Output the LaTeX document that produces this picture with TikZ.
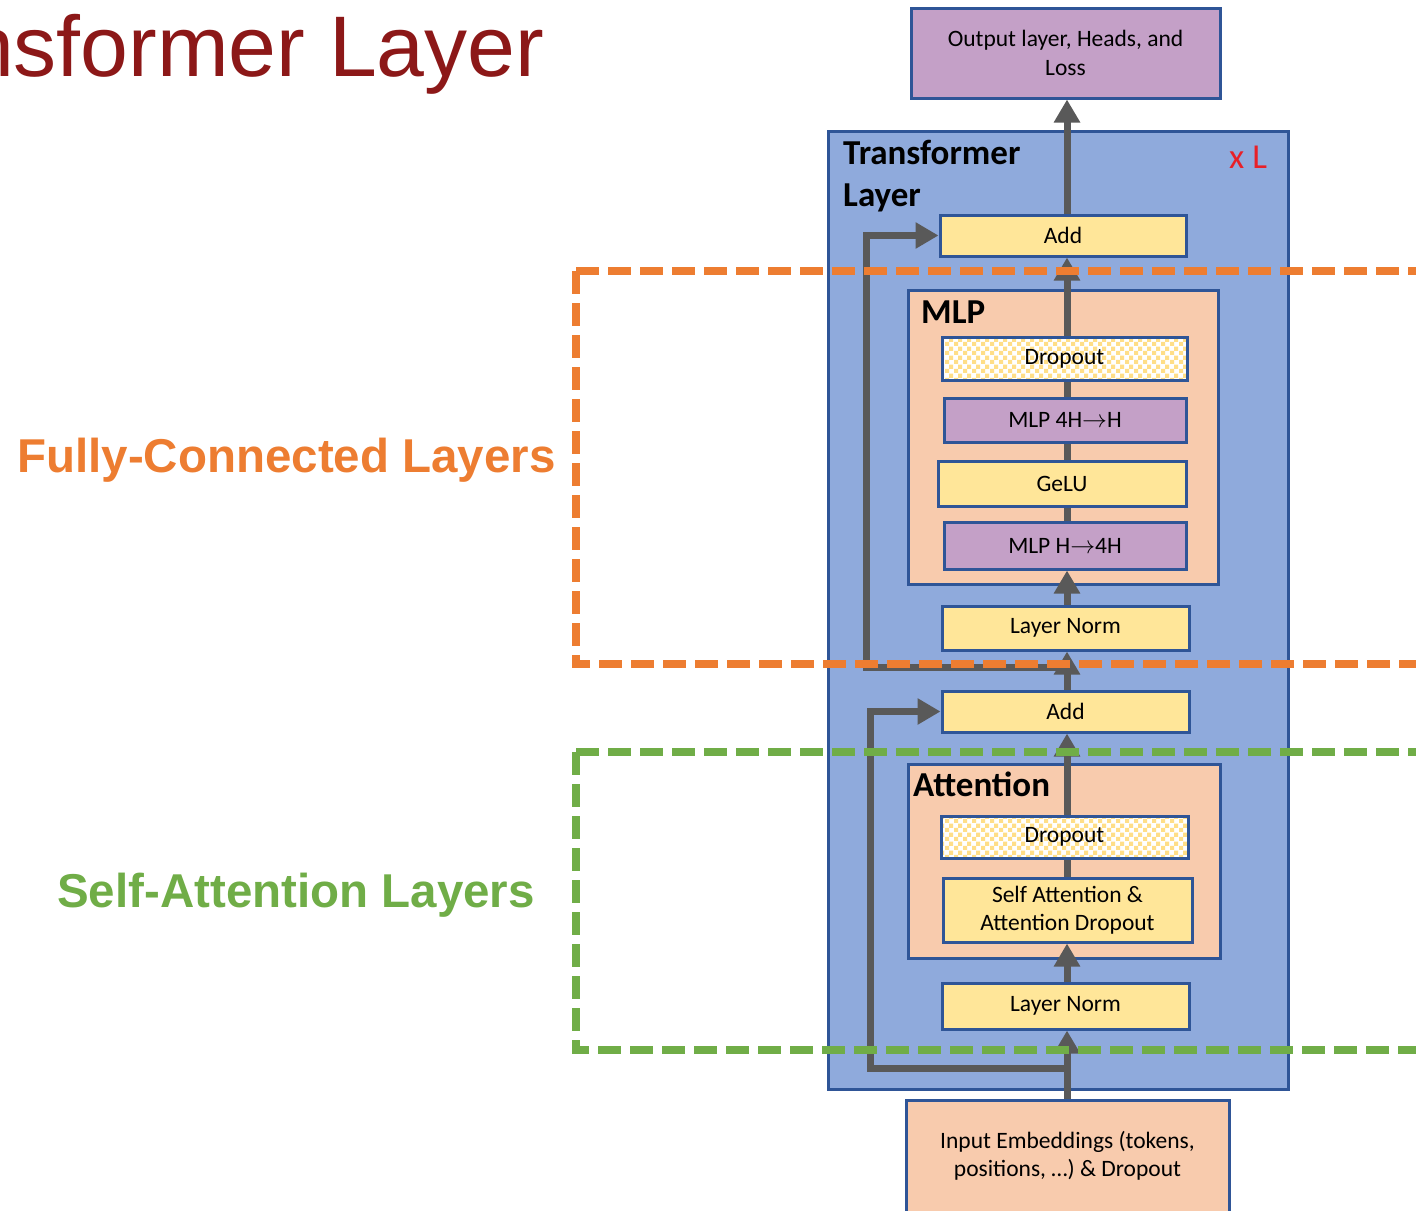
\documentclass[tikz,border=0pt]{standalone}
\usepackage{fontspec}
\setmainfont{Carlito}
\newfontfamily\arialfont{Liberation Sans}
\usetikzlibrary{arrows.meta,patterns,calc}
\definecolor{tlblue}{RGB}{143,170,220}
\definecolor{bdblue}{RGB}{47,85,151}
\definecolor{ylw}{RGB}{255,230,153}
\definecolor{chk}{RGB}{255,222,135}
\definecolor{purp}{RGB}{196,160,199}
\definecolor{peach}{RGB}{248,203,173}
\definecolor{agray}{RGB}{89,89,89}
\definecolor{orng}{RGB}{237,125,49}
\definecolor{grn}{RGB}{112,173,71}
\definecolor{ttlred}{RGB}{140,24,24}
\definecolor{xlred}{RGB}{232,32,40}
\pgfdeclarepatternformonly{bigcheck}{\pgfpointorigin}{\pgfqpoint{9pt}{9pt}}{\pgfqpoint{9pt}{9pt}}{%
  \pgfpathrectangle{\pgfpointorigin}{\pgfqpoint{4.5pt}{4.5pt}}%
  \pgfpathrectangle{\pgfqpoint{4.5pt}{4.5pt}}{\pgfqpoint{4.5pt}{4.5pt}}%
  \pgfusepath{fill}}
\newcommand\mybxfont{\fontsize{23.5}{28.5}\selectfont}
\newcommand\myhdfont{\fontsize{35}{42}\selectfont\bfseries}
\begin{document}
\begin{tikzpicture}[x=1pt,y=-1pt,
  box/.style={draw=bdblue, line width=3pt, inner sep=0pt, align=center, font=\mybxfont},
  ybox/.style={box, fill=ylw},
  pbox/.style={box, fill=purp},
  ebox/.style={box, fill=peach},
  cbox/.style={box, preaction={fill=white}, pattern=bigcheck, pattern color=chk},
  arr/.style={draw=agray, line width=7pt, -{Triangle[width=25pt,length=23pt]}},
  seg/.style={draw=agray, line width=7pt},
  odash/.style={draw=orng, line width=8pt, dash pattern=on 23pt off 9pt},
  gdash/.style={draw=grn, line width=8pt, dash pattern=on 23pt off 9pt},
  hd/.style={font=\myhdfont, inner sep=0pt, align=left}]
\useasboundingbox (0,0) rectangle (1416,1210);
\clip (0,0) rectangle (1416,1210);

% title (cut at the left edge, as in the reference)
\node[anchor=base west, inner sep=0pt, text=ttlred, font=\arialfont\fontsize{86}{100}\selectfont] (title) at (-160,76) {Transformer Layer};

% outer transformer layer box
\node[draw=bdblue, line width=3pt, fill=tlblue, minimum width=460pt, minimum height=958pt, inner sep=0pt] (tl) at (1058,610) {};
\node[hd, anchor=base west] (tltxt) at (843,206) {Transformer\\Layer};
\node[anchor=base west, inner sep=0pt, text=xlred, font=\fontsize{35}{42}\selectfont] (xl) at (1229,168) {x L};

% output
\node[pbox, minimum width=309pt, minimum height=90pt] (out) at (1065.5,53) {Output layer, Heads, and\\Loss};

% top add
\node[ybox, minimum width=246pt, minimum height=41pt] (add2) at (1063,235.5) {Add};

% MLP block
\node[ebox, minimum width=310pt, minimum height=294pt] (mlp) at (1063,437) {};
\node[hd, anchor=base west] (mlptxt) at (921,323) {MLP};
\node[cbox, minimum width=245pt, minimum height=43pt] (drop2) at (1064.5,358.5) {Dropout};
\node[pbox, minimum width=242pt, minimum height=44pt] (mlp2) at (1065,420) {MLP 4H$\rightarrow$H};
\node[ybox, minimum width=248pt, minimum height=45pt] (gelu) at (1062,483.5) {GeLU};
\node[pbox, minimum width=242pt, minimum height=47pt] (mlp1) at (1065,545.5) {MLP H$\rightarrow$4H};
\node[ybox, minimum width=247pt, minimum height=44pt] (ln2) at (1065.5,628) {Layer Norm};

% middle add
\node[ybox, minimum width=247pt, minimum height=41pt] (add1) at (1065.5,711.5) {Add};

% Attention block
\node[ebox, minimum width=312pt, minimum height=194pt] (att) at (1064,861) {};
\node[hd, anchor=base west] (atttxt) at (913,796) {Attention};
\node[cbox, minimum width=247pt, minimum height=42pt] (drop1) at (1064.5,837) {Dropout};
\node[ybox, minimum width=249pt, minimum height=64pt] (sa) at (1067.5,910) {Self Attention \&\\Attention Dropout};
\node[ybox, minimum width=247pt, minimum height=46pt] (ln1) at (1065.5,1006) {Layer Norm};

% input
\node[ebox, minimum width=323pt, minimum height=112pt] (inp) at (1067.5,1156) {Input Embeddings (tokens,\\positions, …) \& Dropout};

% connectors
\coordinate (j1) at (1067,1068);
\coordinate (j2) at (1067,667);
\draw[arr] (j1 |- inp.north) -- (j1 |- ln1.south);
\draw[arr] (j1) -| ($(add1.west)+(-70,0)$) -- (add1.west);
\draw[arr] (j1 |- ln1.north) -- (j1 |- sa.south);
\draw[seg] (j1 |- sa.north) -- (j1 |- drop1.south);
\draw[arr] (j1 |- drop1.north) -- (j1 |- add1.south);
\draw[arr] (j2 |- add1.north) -- (j2 |- ln2.south);
\draw[arr] (j2) -| ($(add2.west)+(-72,0)$) -- (add2.west);
\draw[arr] (j2 |- ln2.north) -- (j2 |- mlp1.south);
\draw[seg] (j2 |- mlp1.north) -- (j2 |- gelu.south);
\draw[seg] (j2 |- gelu.north) -- (j2 |- mlp2.south);
\draw[seg] (j2 |- mlp2.north) -- (j2 |- drop2.south);
\draw[arr] (j2 |- drop2.north) -- (j2 |- add2.south);
\draw[arr] (j2 |- add2.north) -- (j2 |- out.south);

% dashed regions
\draw[odash] (576,271) -- (1440,271);
\draw[odash] (576,271) -- (576,664) -- (1440,664);
\draw[gdash] (576,752) -- (1440,752);
\draw[gdash] (576,752) -- (576,1050) -- (1440,1050);

% side labels
\node[anchor=base west, inner sep=0pt, text=orng, font=\arialfont\bfseries\fontsize{47.5}{55}\selectfont] (fcl) at (17,472) {Fully-Connected Layers};
\node[anchor=base west, inner sep=0pt, text=grn, font=\arialfont\bfseries\fontsize{47.5}{55}\selectfont] (sal) at (57,907) {Self-Attention Layers};
\end{tikzpicture}
\end{document}
